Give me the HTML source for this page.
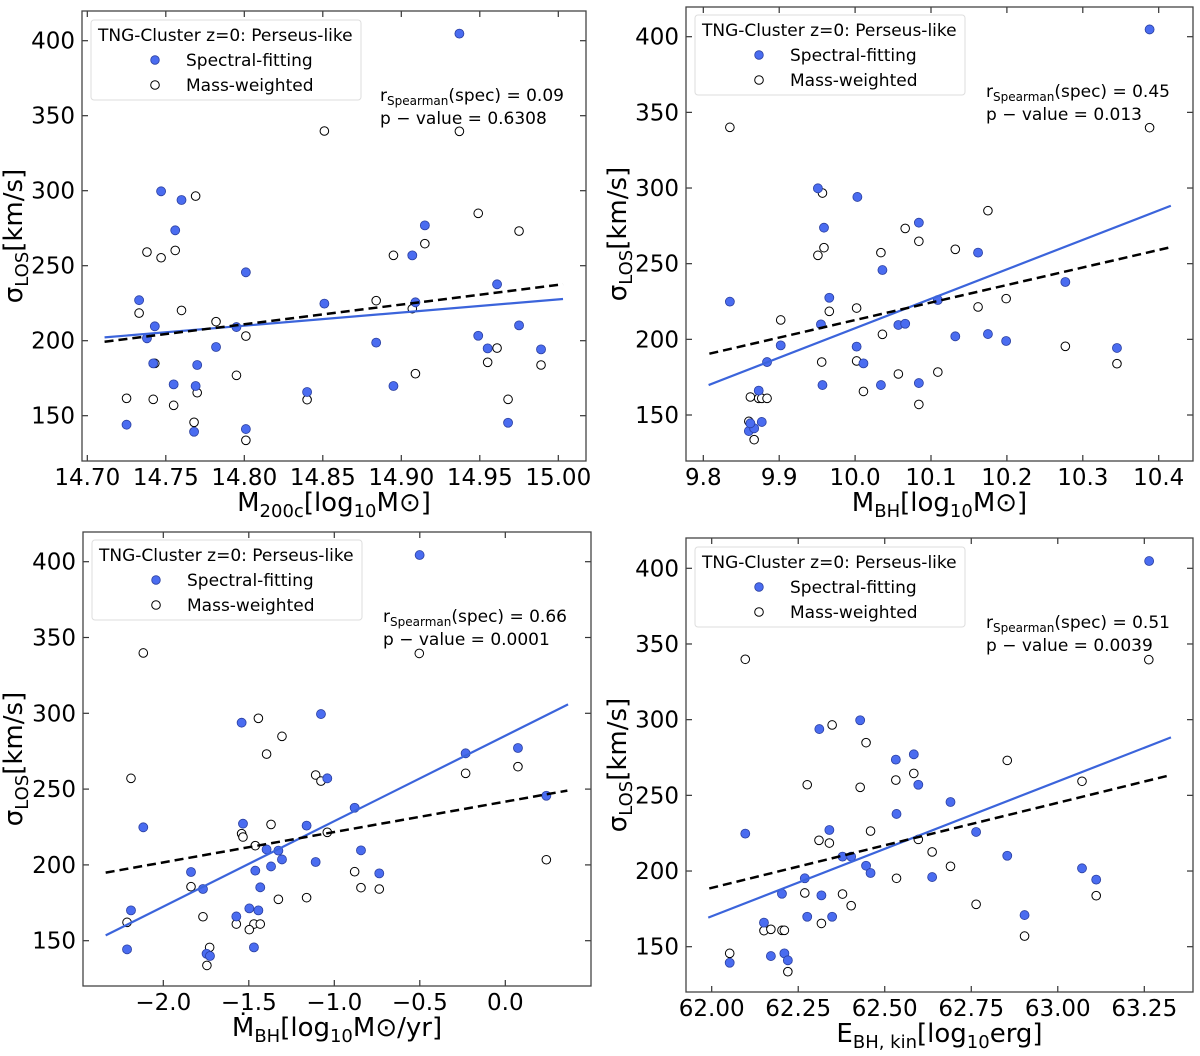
<!DOCTYPE html>
<html><head><meta charset="utf-8"><style>
body{margin:0;background:#fff}
svg{display:block;font-family:"DejaVu Sans","Liberation Sans",sans-serif}
</style></head><body>
<svg id="fig" width="1200" height="1056" viewBox="0 0 1200 1056" xmlns="http://www.w3.org/2000/svg"></svg>
<script>
// ---------- DATA ----------
const p1SpecX=[14.937,14.747,14.760,14.756,14.801,14.915,14.907,14.961,14.733,14.851,14.909,14.743,14.795,14.738,14.975,14.884,14.782,14.949,14.955,14.989,14.742,14.770,14.755,14.769,14.895,14.840,14.725,14.768,14.801,14.968];
const p1SpecY=[404.7,299.6,293.8,273.6,245.6,276.9,256.9,237.6,227,224.7,225.6,209.6,209.1,201.6,210.2,198.7,195.8,203.3,194.9,194.2,184.9,183.8,170.9,169.8,169.8,165.8,144,139.3,141.1,145.3];
const p1MassX=[14.851,14.937,14.769,14.949,14.975,14.738,14.756,14.747,14.895,14.915,14.733,14.760,14.782,14.884,14.907,14.801,14.961,14.955,14.989,14.743,14.795,14.909,14.725,14.742,14.755,14.770,14.768,14.840,14.968,14.801];
const p1MassY=[339.8,339.6,296.4,284.9,273.1,259.1,260.2,255.3,256.9,264.7,218.4,220.2,212.7,226.7,221.3,203.1,195.1,185.6,183.8,184.9,176.9,178,161.6,160.9,156.9,165.3,145.6,160.7,160.9,133.6];
const p1SpecFit=[14.711,202.2,15.003,227.8];
const p1MassFit=[14.711,199.3,15.003,237.6];

const p2SpecX=[10.388,9.951,10.003,9.959,10.084,10.162,10.036,10.277,9.835,9.966,10.109,9.955,10.057,10.066,9.902,10.132,10.175,10.199,10.002,10.345,9.884,10.011,9.873,9.957,10.034,10.084,9.877,9.860,9.867,9.862];
const p2SpecY=[404.8,299.8,294.1,273.8,277.1,257.3,245.8,237.9,224.9,227.5,226,209.9,209.5,210.3,196,202,203.5,198.9,195.2,194.3,185,184.1,166.1,169.8,169.8,171.1,145.4,139.4,141.2,144.5];
const p2MassX=[9.835,10.388,9.957,10.175,10.066,10.084,9.959,9.951,10.034,10.132,9.966,10.002,10.162,10.199,9.902,10.036,10.277,9.956,10.002,10.345,10.109,10.057,10.011,9.862,9.873,9.877,9.884,10.084,9.860,9.867];
const p2MassY=[340.1,339.9,296.7,285,273.3,264.8,260.6,255.5,257.3,259.5,218.5,220.7,221.4,226.9,212.8,203.3,195.4,185,185.7,183.9,178.4,177.1,165.6,161.9,161,161,161,157,145.8,133.7];
const p2SpecFit=[9.807,169.8,10.416,288.3];
const p2MassFit=[9.808,190.5,10.415,260.8];

const p3SpecX=[-0.501,-1.542,-1.078,-0.232,0.074,-1.041,-0.881,0.240,-2.117,-1.534,-1.162,-1.396,-1.327,-0.844,-1.306,-1.370,-1.109,-1.838,-1.462,-0.737,-1.768,-1.433,-2.189,-1.497,-1.444,-1.573,-2.212,-1.747,-1.727,-1.470];
const p3SpecY=[404.4,293.8,299.5,273.6,277.1,257.1,237.7,245.6,224.8,227.2,225.9,210.2,209.4,209.6,203.6,199,201.9,195.3,196.2,194.4,184.1,185.2,170,171.3,170,166,144.3,141.4,139.9,145.6];
const p3MassX=[-2.117,-0.503,-1.444,-1.306,-1.396,-2.189,-1.109,-1.078,-0.232,0.074,-1.370,-1.542,-1.534,-1.462,-1.041,0.240,-0.881,-1.838,-0.844,-0.737,-1.327,-1.162,-1.768,-2.212,-1.573,-1.470,-1.433,-1.497,-1.729,-1.745];
const p3MassY=[339.8,339.5,296.7,284.8,273.1,257.1,259.3,255.3,260.4,264.8,226.7,220.6,218.4,212.7,221.5,203.4,195.5,185.6,185,184.1,177.3,178.4,165.8,162.1,161,161,161,157.3,145.6,133.7];
const p3SpecFit=[-2.337,153.5,0.367,305.9];
const p3MassFit=[-2.337,194.9,0.363,249];

const p4SpecX=[63.264,62.311,62.429,62.532,62.584,62.597,62.690,62.534,62.097,62.340,62.764,62.378,62.403,62.854,62.446,62.459,63.070,62.269,62.637,63.111,62.203,62.317,62.151,62.276,62.348,62.904,62.052,62.171,62.210,62.220];
const p4SpecY=[404.8,293.8,299.6,273.6,277.1,257,245.6,237.7,224.7,227.1,225.8,209.5,209.5,210.1,203.5,198.7,201.8,195.2,196,194.3,185,183.9,165.9,169.8,169.8,170.9,139.4,143.8,145.6,141];
const p4MassX=[62.097,63.263,62.348,62.446,62.854,62.584,62.532,62.276,62.429,63.070,62.459,62.310,62.340,62.597,62.637,62.690,62.534,62.269,62.378,63.111,62.403,62.764,62.317,62.151,62.171,62.203,62.210,62.904,62.052,62.220];
const p4MassY=[339.9,339.6,296.5,284.8,273.1,264.5,260.1,257,255.3,259.3,226.4,220.3,218.5,220.9,212.6,203.1,195.2,185.5,184.8,183.7,177.1,178,165.4,160.6,161.5,160.8,160.8,157,145.6,133.5];
const p4SpecFit=[61.990,169.2,63.327,288.3];
const p4MassFit=[61.993,188.5,63.319,263];

const p1XTicks=["14.70","14.75","14.80","14.85","14.90","14.95","15.00"];
const p2XTicks=["9.8","9.9","10.0","10.1","10.2","10.3","10.4"];
const p3XTicks=["−2.0","−1.5","−1.0","−0.5","0.0"];
const p4XTicks=["62.00","62.25","62.50","62.75","63.00","63.25"];
const p3XTickVals=[-2.0,-1.5,-1.0,-0.5,0.0];
const yTicks=[150,200,250,300,350,400];
const rhoVals=["0.09","0.45","0.66","0.51"];
const pVals=["0.6308","0.013","0.0001","0.0039"];

// ---------- DRAW ----------
const NS="http://www.w3.org/2000/svg";
const svg=document.getElementById('fig');
function mk(tag,attrs,parent){const e=document.createElementNS(NS,tag);for(const k in attrs)e.setAttribute(k,attrs[k]);(parent||svg).appendChild(e);return e;}

const panels=[
 {f:[82,11,586,461],xa:[14.70,87.3],xb:[15.00,558.3],ya:[400,40.7],yb:[150,415.7],
  sx:p1SpecX,sy:p1SpecY,mx:p1MassX,my:p1MassY,sf:p1SpecFit,mf:p1MassFit,
  xt:p1XTicks,xv:p1XTicks.map(Number),xl:["M","200c","[log","10","M","⊙","]"],leg:[91,20],ann:[380,101],ylx:22},
 {f:[686,7,1193,461],xa:[9.8,703.3],xb:[10.4,1158.7],ya:[400,36.7],yb:[150,415],
  sx:p2SpecX,sy:p2SpecY,mx:p2MassX,my:p2MassY,sf:p2SpecFit,mf:p2MassFit,
  xt:p2XTicks,xv:p2XTicks.map(Number),xl:["M","BH","[log","10","M","⊙","]"],leg:[695,15],ann:[986,97],ylx:626},
 {f:[83,532,591,986],xa:[-2.0,163.3],xb:[0.0,505.3],ya:[400,561.7],yb:[150,940.7],
  sx:p3SpecX,sy:p3SpecY,mx:p3MassX,my:p3MassY,sf:p3SpecFit,mf:p3MassFit,
  xt:p3XTicks,xv:p3XTickVals,xl:["Ṁ","BH","[log","10","M","⊙","/yr]"],leg:[92,540],ann:[383,622],ylx:22},
 {f:[686,538,1193,992],xa:[62.0,711.7],xb:[63.25,1144.3],ya:[400,568.3],yb:[150,946.7],
  sx:p4SpecX,sy:p4SpecY,mx:p4MassX,my:p4MassY,sf:p4SpecFit,mf:p4MassFit,
  xt:p4XTicks,xv:p4XTicks.map(Number),xl:["E","BH, kin","[log","10","erg]"],leg:[695,547],ann:[986,628],ylx:626}
];

panels.forEach((P,i)=>{
 const g=mk('g',{});
 
 
 const X=v=>P.xa[1]+(v-P.xa[0])*(P.xb[1]-P.xa[1])/(P.xb[0]-P.xa[0]);
 const Y=v=>P.ya[1]+(v-P.ya[0])*(P.yb[1]-P.ya[1])/(P.yb[0]-P.ya[0]);
 const [L,T,R,B]=P.f;
 const clipId='clip'+i;
 const cp=mk('clipPath',{id:clipId},g);mk('rect',{x:L,y:T,width:R-L,height:B-T},cp);
 P.xv.forEach((v,k)=>{
  const x=X(v);
  mk('line',{x1:x,x2:x,y1:B,y2:B-6,stroke:'#333','stroke-width':1.2},g);
  mk('line',{x1:x,x2:x,y1:T,y2:T+6,stroke:'#333','stroke-width':1.2},g);
  const t=mk('text',{x:x,y:B+24,'text-anchor':'middle','font-size':23,fill:'#000'},g);
  t.textContent=P.xt[k];
  
  
 });
 yTicks.forEach(v=>{
  const y=Y(v);
  mk('line',{x1:L,x2:L+6,y1:y,y2:y,stroke:'#333','stroke-width':1.2},g);
  mk('line',{x1:R,x2:R-6,y1:y,y2:y,stroke:'#333','stroke-width':1.2},g);
  const t=mk('text',{x:L-7,y:y+8,'text-anchor':'end','font-size':23,fill:'#000'},g);
  t.textContent=v;
  
  
 });
 const pg=mk('g',{'clip-path':'url(#'+clipId+')'},g);
 P.mx.forEach((v,k)=>{
  const c=mk('circle',{cx:X(v),cy:Y(P.my[k]),r:4.3,fill:'#fff',stroke:'#000','stroke-width':1},pg);
  
  
 });
 P.sx.forEach((v,k)=>{
  const c=mk('circle',{cx:X(v),cy:Y(P.sy[k]),r:4.5,fill:'#4a6cf0',stroke:'#2a3fa0','stroke-width':0.8},pg);
  
  
 });
 const sl=mk('line',{x1:X(P.sf[0]),y1:Y(P.sf[1]),x2:X(P.sf[2]),y2:Y(P.sf[3]),stroke:'#3b64db','stroke-width':2.2},pg);
 
 
 const ml=mk('line',{x1:X(P.mf[0]),y1:Y(P.mf[1]),x2:X(P.mf[2]),y2:Y(P.mf[3]),stroke:'#000','stroke-width':2.5,'stroke-dasharray':'9,5'},pg);
 
 
 mk('rect',{x:L,y:T,width:R-L,height:B-T,fill:'none',stroke:'#444','stroke-width':1.3},g);
 const [lx,ly]=P.leg;
 const lg=mk('g',{},g);
 
 
 mk('rect',{x:lx,y:ly,width:270,height:80,rx:3,fill:'#fff','fill-opacity':0.85,stroke:'#ddd','stroke-width':1},lg);
 const lt=mk('text',{x:lx+7,y:ly+21,'font-size':17,fill:'#000'},lg);lt.textContent='TNG-Cluster z=0: Perseus-like';
 mk('circle',{cx:lx+64,cy:ly+40,r:4.3,fill:'#4a6cf0',stroke:'#2a3fa0','stroke-width':0.8},lg);
 const l1=mk('text',{x:lx+95,y:ly+46,'font-size':17,fill:'#000'},lg);l1.textContent='Spectral-fitting';
 mk('circle',{cx:lx+64,cy:ly+65,r:4.3,fill:'#fff',stroke:'#000','stroke-width':1},lg);
 const l2=mk('text',{x:lx+95,y:ly+71,'font-size':17,fill:'#000'},lg);l2.textContent='Mass-weighted';
 const [ax,ay]=P.ann;
 const a1=mk('text',{x:ax,y:ay,'font-size':17,fill:'#000'},g);
 
 
 const s1=mk('tspan',{},a1);s1.textContent='r';
 const s2=mk('tspan',{'font-size':12,dy:4},a1);s2.textContent='Spearman';
 const s3=mk('tspan',{dy:-4},a1);s3.textContent='(spec) = '+rhoVals[i];
 const a2=mk('text',{x:ax,y:ay+23,'font-size':17,fill:'#000'},g);
 a2.textContent='p − value = '+pVals[i];
 
 
 const xl=mk('text',{x:(L+R)/2,y:B+50,'text-anchor':'middle','font-size':26,fill:'#000'},g);
 
 
 P.xl.forEach((s,k)=>{
  const sub=(s==='200c'||s==='BH'||s==='BH, kin'||s==='10');
  const ts=mk('tspan',{},xl);
  if(sub){ts.setAttribute('font-size',18);ts.setAttribute('dy',6);}
  else if(k>0){const prev=P.xl[k-1];if(prev==='200c'||prev==='BH'||prev==='BH, kin'||prev==='10')ts.setAttribute('dy',-6);}
  ts.textContent=s;
 });
 const cy=(T+B)/2;
 const yl=mk('text',{x:P.ylx,y:cy,'text-anchor':'middle','font-size':26,fill:'#000',transform:'rotate(-90 '+P.ylx+' '+cy+')'},g);
 
 
 const y1=mk('tspan',{},yl);y1.textContent='σ';
 const y2=mk('tspan',{'font-size':18,dy:6},yl);y2.textContent='LOS';
 const y3=mk('tspan',{dy:-6},yl);y3.textContent='[km/s]';
});
</script>
</body></html>
